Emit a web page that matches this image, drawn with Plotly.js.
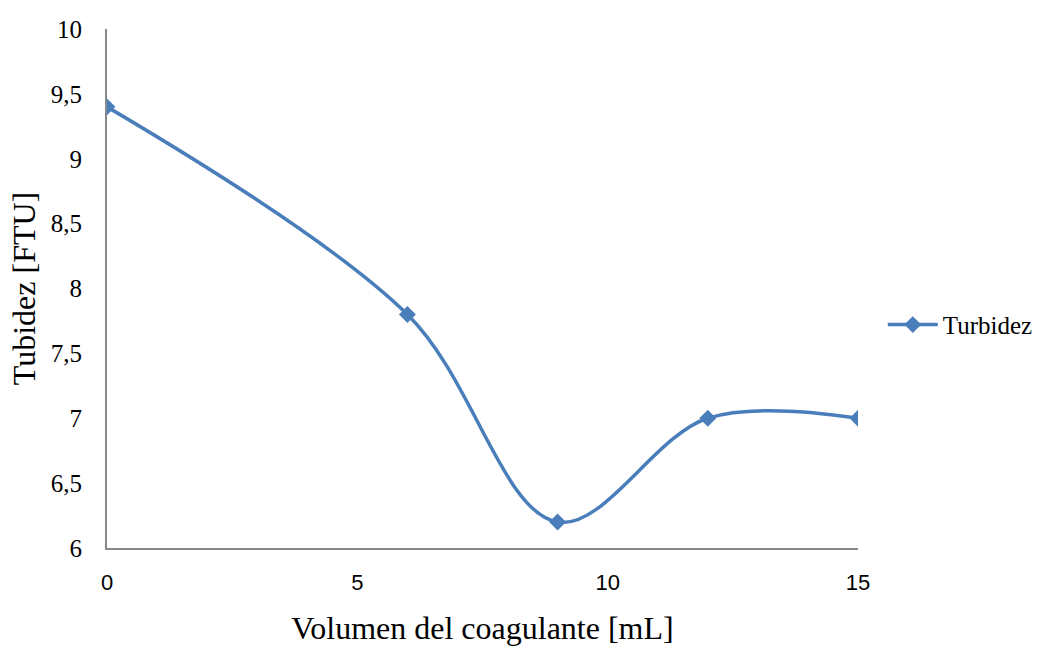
<!DOCTYPE html>
<html>
<head>
<meta charset="utf-8">
<script src="https://cdn.plot.ly/plotly-3.0.1.min.js"></script>
<style>html,body{margin:0;padding:0;background:#fff;}#chart{width:1047px;height:646px;}</style>
</head>
<body>
<div id="chart"></div>
<script>
const volumen = [0, 6, 9, 12, 15];
const turbidez = [9.4, 7.8, 6.2, 7.0, 7.0];
const seriesName = "Turbidez";
const xTicks = [0, 5, 10, 15];
const yTicks = [6, 6.5, 7, 7.5, 8, 8.5, 9, 9.5, 10];
const yTickText = yTicks.map(v => String(v).replace('.', ','));

const trace = {
  x: volumen, y: turbidez, name: seriesName,
  type: 'scatter', mode: 'lines+markers',
  line: {color: '#4a7ebb', width: 3.5, shape: 'spline', smoothing: 1},
  marker: {symbol: 'diamond', size: 13, color: '#4a7ebb'}
};

const layout = {
  width: 1047, height: 646,
  margin: {l: 107, r: 189, t: 29, b: 98, autoexpand: false},
  paper_bgcolor: '#fff', plot_bgcolor: '#fff',
  font: {family: 'Liberation Serif', color: '#000'},
  showlegend: true,
  legend: {x: 1.033, y: 0.43, xanchor: 'left', yanchor: 'middle', itemwidth: 50,
    font: {family: 'Liberation Serif', size: 25, color: '#000'}},
  xaxis: {
    range: [0, 15], tickvals: xTicks, ticktext: xTicks.map(String),
    showgrid: false, zeroline: false, showline: true, linecolor: '#888', linewidth: 2,
    ticks: '', ticklabelstandoff: 14,
    tickfont: {family: 'Liberation Sans', size: 22, color: '#000'},
    title: {text: 'Volumen del coagulante [mL]', font: {family: 'Liberation Serif', size: 32, color: '#000'}, standoff: 28}
  },
  yaxis: {
    range: [6, 10], tickvals: yTicks, ticktext: yTickText,
    showgrid: false, zeroline: false, showline: true, linecolor: '#888', linewidth: 2,
    ticks: '', ticklabelstandoff: 18,
    tickfont: {family: 'Liberation Serif', size: 25, color: '#000'},
    title: {text: 'Tubidez [FTU]', font: {family: 'Liberation Serif', size: 32, color: '#000'}, standoff: 6}
  }
};

Plotly.newPlot('chart', [trace], layout, {displayModeBar: false, staticPlot: true});
</script>
</body>
</html>
